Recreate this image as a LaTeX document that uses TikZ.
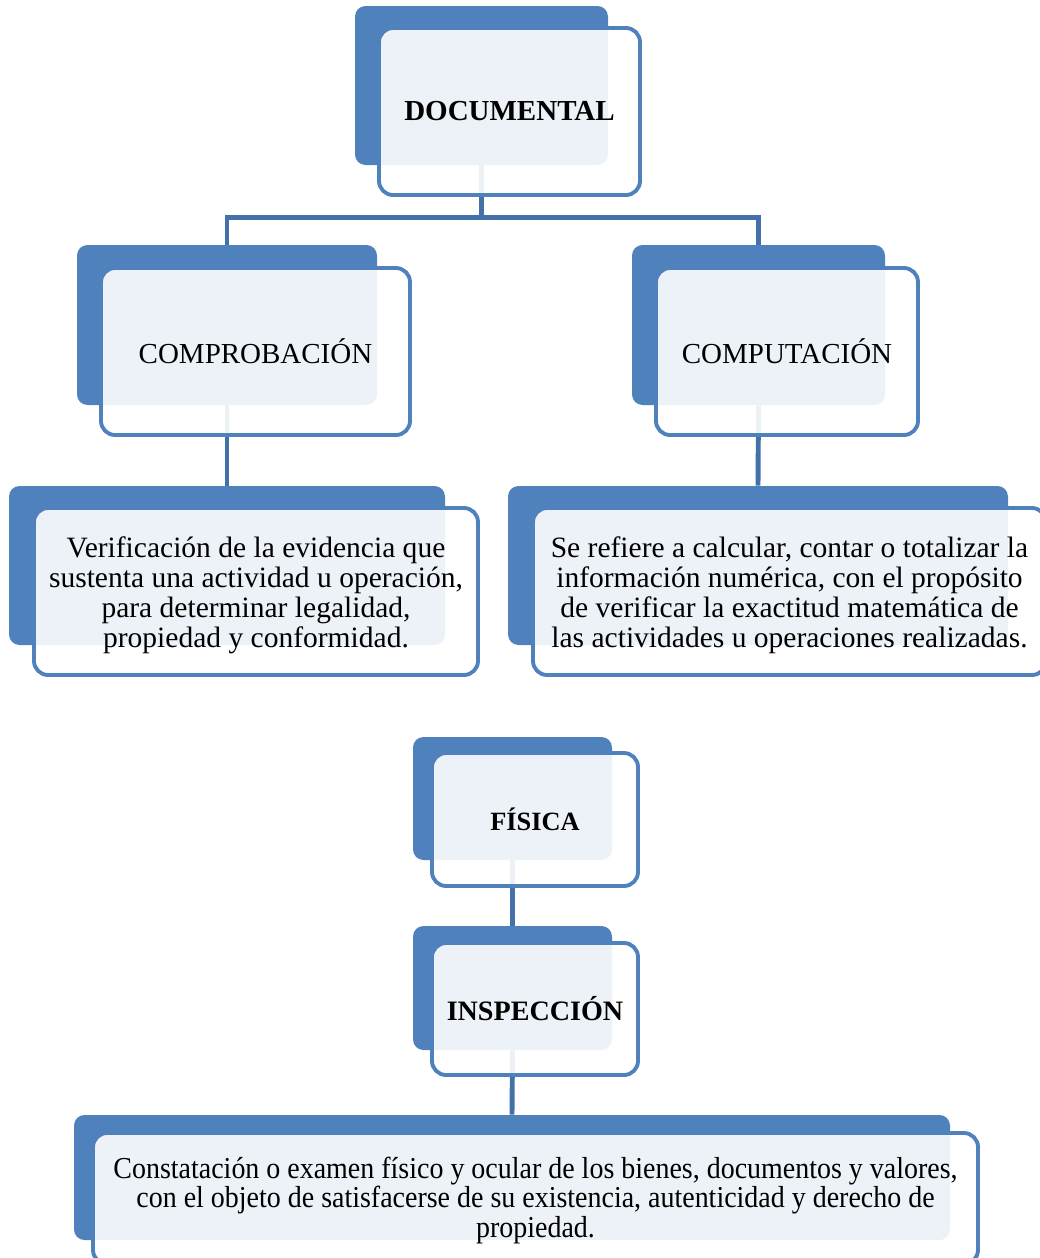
\documentclass[tikz,border=0pt]{standalone}
\usepackage{fontspec}
\setmainfont{Liberation Serif}
\newfontfamily\condserif[FakeStretch=0.92]{Liberation Serif}
\usetikzlibrary{fit,backgrounds}

\definecolor{smBlue}{HTML}{4F81BD}
\definecolor{smLine}{HTML}{4471A9}

\tikzset{
  backbox/.style={fill=smBlue, rounded corners=6pt, inner sep=0pt},
  frontbox/.style={draw=smBlue, line width=2.2pt, fill=white, fill opacity=0.9,
    rounded corners=8pt, inner sep=0pt},
  boxtext/.style={align=center, inner sep=0pt, yshift=-0.07cm,
    font=\fontsize{16.8}{17}\selectfont},
  headtext/.style={align=center, inner sep=0pt,
    font=\fontsize{16.5}{17}\selectfont\bfseries},
  conn/.style={draw=smLine, line width=2.8pt}
}

\begin{document}
\begin{tikzpicture}[x=0.02cm, y=-0.02cm]
\useasboundingbox (0,0) rectangle (1040,1258);

% upper tree
\node[backbox, fit={(355,6) (608,165)}] (docB) {};
\node[frontbox, fit={(379,28) (640,195)}] (doc) {};
\node[headtext] at (doc.center) (docT) {DOCUMENTAL};
\node[backbox, fit={(77,245) (377,405)}] (compB) {};
\node[frontbox, fit={(101,268) (410,435)}] (comp) {};
\node[headtext, font=\fontsize{16.5}{17}\selectfont] at (comp.center) (compT) {COMPROBACIÓN};
\node[backbox, fit={(632,245) (885,405)}] (compuB) {};
\node[frontbox, fit={(656,268) (918,435)}] (compu) {};
\node[headtext, font=\fontsize{16.5}{17}\selectfont] at (compu.center) (compuT) {COMPUTACIÓN};
\node[backbox, fit={(9,486) (445,645)}] (verB) {};
\node[frontbox, fit={(34,508) (478,675)}] (ver) {};
\node[boxtext] at (ver.center) (verT) {Verificación de la evidencia que\\sustenta una actividad u operación,\\para determinar legalidad,\\propiedad y conformidad.};
\node[backbox, fit={(508,486) (1008,645)}] (calcB) {};
\node[frontbox, fit={(533,508) (1046,675)}] (calc) {};
\node[boxtext] at (calc.center) (calcT) {Se refiere a calcular, contar o totalizar la\\información numérica, con el propósito\\de verificar la exactitud matemática de\\las actividades u operaciones realizadas.};

% lower tree
\node[backbox, fit={(413,737) (612,860)}] (fisB) {};
\node[frontbox, fit={(432,753) (638,886)}] (fis) {};
\node[headtext, font=\fontsize{15}{17}\selectfont\bfseries] at (fis.center) (fisT) {FÍSICA};
\node[backbox, fit={(413,926) (612,1050)}] (inspB) {};
\node[frontbox, fit={(432,943) (638,1075)}] (insp) {};
\node[headtext, font=\fontsize{16}{17}\selectfont\bfseries] at (insp.center) (inspT) {INSPECCIÓN};
\node[backbox, fit={(74,1115) (950,1240)}] (constB) {};
\node[frontbox, fit={(93,1133) (978,1264)}] (const) {};
\node[boxtext, yshift=0.03cm, font=\condserif\fontsize{17.3}{17}\selectfont] at (const.center) (constT) {Constatación o examen físico y ocular de los bienes, documentos y valores,\\con el objeto de satisfacerse de su existencia, autenticidad y derecho de\\propiedad.};

\begin{pgfonlayer}{background}
\draw[conn] (docB.south) -- ++(0,52) coordinate (split) -| (compB.north);
\draw[conn] (split) -| (compuB.north);
\draw[conn] (compB.south) -- (verB.north);
\draw[conn] (compuB.south) -- (calcB.north);
\draw[conn] (fisB.south) -- (inspB.north);
\draw[conn] (inspB.south) -- (constB.north);
\end{pgfonlayer}
\end{tikzpicture}
\end{document}
